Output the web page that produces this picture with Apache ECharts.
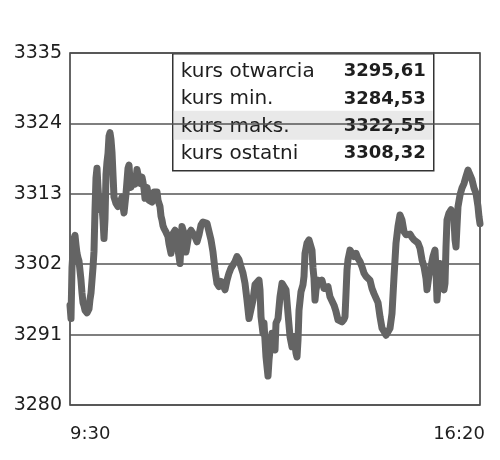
<!DOCTYPE html>
<html><head><meta charset="utf-8">
<script src="https://cdn.jsdelivr.net/npm/echarts@6/dist/echarts.min.js"></script>
<style>html,body{margin:0;padding:0;background:#fff}#c{width:500px;height:460px}</style>
</head><body><div id="c"></div>
<script>
// minutes since 9:30 and index value
const minutes = [0,1,2,3,4,5,6,7,8,9,10,11,12,13,14,15,16,17,18,19,20,21,22,23,24,25,26,27,28,29,30,31,32,33,34,35,36,37,38,39,40,41,42,43,44,45,46,47,48,49,50,51,52,53,54,55,56,57,58,59,60,61,62,63,64,65,66,67,68,69,70,71,72,73,74,75,76,77,78,79,80,81,82,83,84,85,86,87,88,89,90,91,92,93,94,95,96,97,98,99,100,101,103,105,107,109,110,112,114,116,117,119,121,123,125,127,129,131,133,135,137,139,141,143,145,147,149,151,153,155,157,159,161,163,165,167,169,171,173,175,177,179,181,183,185,187,189,190,191,193,194,195,196,197,198,199,200,201,202,204,205,206,208,210,212,214,216,218,220,222,224,226,227,228,229,231,233,234,235,237,239,241,242,243,244,245,246,248,250,252,254,256,258,260,262,264,266,268,270,272,274,275,276,277,278,280,282,284,286,288,290,292,294,296,298,300,302,304,306,308,310,312,314,316,318,320,322,324,326,328,330,331,332,334,336,338,340,342,344,346,348,350,352,354,356,357,359,361,363,365,366,367,368,369,370,371,372,374,375,376,377,379,381,383,384,385,386,387,388,390,392,394,396,398,400,402,404,406,408,409,410];
const prices = [3295.6,3293.5,3301.5,3304.0,3306.0,3306.5,3305.0,3303.7,3303.0,3302.5,3301.0,3299.5,3297.5,3296.0,3295.5,3294.8,3294.5,3294.4,3294.6,3295.0,3296.5,3297.5,3299.5,3301.5,3304.0,3310.5,3315.5,3317.0,3314.0,3311.5,3310.5,3312.5,3311.0,3308.9,3306.0,3309.0,3316.0,3318.0,3319.3,3322.0,3322.55,3321.5,3319.5,3316.0,3312.5,3312.0,3311.5,3311.5,3311.0,3310.8,3310.8,3312.0,3312.5,3311.0,3310.0,3309.7,3313.0,3315.0,3317.0,3317.5,3315.0,3314.0,3314.0,3315.5,3315.7,3314.5,3315.3,3316.8,3316.0,3315.3,3314.6,3315.0,3315.6,3314.8,3313.8,3312.3,3312.8,3314.0,3313.0,3312.0,3312.3,3312.0,3311.7,3312.8,3313.3,3313.6,3313.3,3313.3,3312.0,3311.8,3311.0,3309.5,3308.9,3308.0,3307.6,3307.3,3307.0,3306.8,3306.3,3305.2,3305.0,3303.7,3306.8,3307.3,3305.3,3303.2,3302.1,3307.9,3306.8,3303.9,3303.7,3306.8,3307.3,3307.1,3306.3,3305.5,3306.6,3308.1,3308.6,3308.9,3308.4,3307.1,3305.8,3303.9,3301.1,3299.0,3298.5,3299.3,3298.8,3298.0,3299.5,3300.6,3301.4,3301.1,3302.4,3303.2,3302.7,3301.6,3300.6,3299.0,3296.4,3293.5,3293.3,3296.4,3298.8,3299.0,3299.5,3298.0,3293.8,3291.2,3292.8,3290.1,3287.5,3286.0,3284.53,3287.0,3288.6,3290.1,3291.2,3291.0,3288.6,3292.8,3293.5,3296.9,3299.0,3298.8,3298.0,3294.3,3290.7,3289.1,3290.7,3288.1,3287.5,3290.1,3294.8,3297.7,3298.8,3300.1,3303.7,3305.3,3305.8,3306.0,3304.2,3301.4,3299.8,3296.4,3298.0,3299.5,3299.0,3299.5,3298.2,3298.5,3298.5,3296.9,3296.7,3295.6,3294.6,3293.3,3293.3,3293.0,3293.4,3293.8,3297.4,3301.1,3302.7,3304.2,3304.0,3303.2,3303.7,3302.9,3302.4,3301.6,3300.6,3300.1,3299.8,3299.5,3298.2,3297.4,3296.7,3296.0,3293.8,3292.0,3291.5,3290.9,3291.2,3292.0,3294.3,3300.0,3305.3,3307.9,3309.7,3310.0,3308.9,3307.1,3306.6,3306.3,3306.7,3306.2,3305.8,3305.8,3305.3,3304.5,3302.7,3301.6,3299.8,3298.0,3300.3,3301.6,3303.2,3304.2,3301.1,3296.4,3298.5,3301.1,3302.1,3300.1,3298.5,3298.0,3299.0,3304.7,3308.9,3310.0,3310.5,3309.7,3308.9,3305.8,3304.7,3307.9,3311.0,3312.8,3313.9,3314.6,3315.7,3316.7,3316.7,3315.2,3313.9,3313.1,3311.0,3309.4,3308.32];
const yTicks = [3280, 3291, 3302, 3313, 3324, 3335];
const xTickLabels = ['9:30', '16:20'];
const statLabels = ['kurs otwarcia', 'kurs min.', 'kurs maks.', 'kurs ostatni'];
const statValues = ['3295,61', '3284,53', '3322,55', '3308,32'];

const FONT = '"DejaVu Sans", sans-serif';
const chart = echarts.init(document.getElementById('c'), null, {renderer: 'canvas'});

const boxChildren = [
  {type: 'rect', shape: {x: 0, y: 0, width: 261, height: 117}, style: {fill: '#fff', stroke: '#333', lineWidth: 1.5}},
  {type: 'rect', shape: {x: 1, y: 57, width: 259, height: 29}, style: {fill: '#e9e9e9'}}
];
const rowY = [18, 45.5, 73, 100];
statLabels.forEach((lab, i) => {
  boxChildren.push({type: 'text', x: 8, y: rowY[i], style: {text: lab, font: '20px ' + FONT, fill: '#1e1e1e', align: 'left', verticalAlign: 'middle'}});
  boxChildren.push({type: 'text', x: 253, y: rowY[i], style: {text: statValues[i], font: 'bold 18px ' + FONT, fill: '#1e1e1e', align: 'right', verticalAlign: 'middle'}});
});

chart.setOption({
  animation: false,
  backgroundColor: '#fff',
  grid: {left: 70, right: 20, top: 53, bottom: 55, show: true, borderColor: '#333', borderWidth: 1.5, containLabel: false},
  xAxis: {
    type: 'value', min: 0, max: 410, interval: 410,
    axisLine: {show: false}, axisTick: {show: false}, splitLine: {show: false},
    axisLabel: {
      margin: 20, fontSize: 18, fontFamily: FONT, color: '#1e1e1e',
      alignMinLabel: 'left', alignMaxLabel: 'right', padding: [0, -5, 0, 0],
      formatter: v => v === 0 ? xTickLabels[0] : xTickLabels[1]
    }
  },
  yAxis: {
    type: 'value', min: yTicks[0], max: yTicks[yTicks.length - 1], interval: yTicks[1] - yTicks[0],
    axisLine: {show: false}, axisTick: {show: false},
    splitLine: {show: true, lineStyle: {color: '#555', width: 1.5}},
    axisLabel: {margin: 8, fontSize: 19, fontFamily: FONT, color: '#1e1e1e', formatter: v => String(v)}
  },
  series: [{
    type: 'line', showSymbol: false, smooth: false,
    data: minutes.map((m, i) => [m, prices[i]]),
    lineStyle: {color: '#646464', width: 7, join: 'round', cap: 'round'}
  }],
  graphic: [{type: 'group', left: 172, top: 53, z: 100, children: boxChildren}]
});
</script>
</body></html>
